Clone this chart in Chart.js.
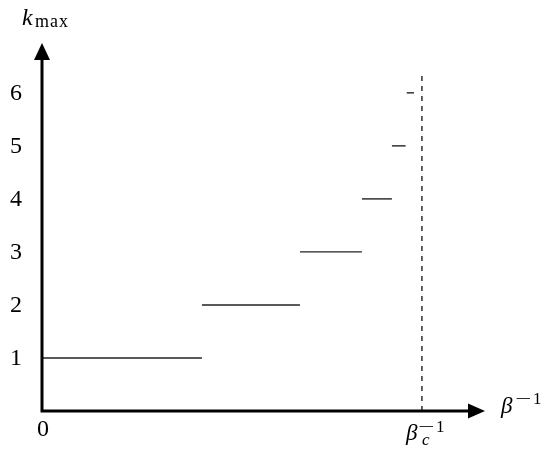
<!DOCTYPE html>
<html>
<head>
<meta charset="utf-8">
<script src="https://cdn.jsdelivr.net/npm/chart.js@4.4.1/dist/chart.umd.min.js"></script>
<style>
  body { margin: 0; background: #fff; }
  canvas { display: block; }
</style>
</head>
<body>
<canvas id="steps" width="541" height="452"></canvas>
<script>
// step levels of k_max and where each step starts / ends (in units of beta_c^-1)
const levels = [1, 2, 3, 4, 5, 6];
const segStart = [0, 0.421, 0.679, 0.842, 0.921, 0.960];
const segEnd = [0.421, 0.679, 0.842, 0.921, 0.957, 0.979];
const betaC = 1;
const dashTop = 6.36;

let ctx = document.getElementById("steps").getContext("2d");
const serif = "'Liberation Serif', 'DejaVu Serif', serif";

let datasets = [];
for (let i = 0; i < levels.length; i++) {
  datasets.push({
    data: [{ x: segStart[i], y: levels[i] }, { x: segEnd[i], y: levels[i] }],
    borderColor: "#222",
    borderWidth: 1.4,
    pointRadius: 0,
  });
}
datasets.push({
  data: [{ x: betaC, y: 0 }, { x: betaC, y: dashTop }],
  borderColor: "#222",
  borderWidth: 1.4,
  borderDash: [5, 5],
  pointRadius: 0,
});

// "−1" superscript, minus stretched a bit to look like the TeX one
function minusOne(c, x, y) {
  c.font = "17px " + serif;
  c.save();
  c.translate(x, y);
  c.scale(1.7, 1);
  c.fillText("−", 0, 0);
  c.restore();
  c.fillText("1", x + 18, y);
}

// axes with arrows and all the labels
const axesPlugin = {
  id: "axes",
  afterDraw(chart) {
    const c = chart.ctx;
    const xs = chart.scales.x, ys = chart.scales.y;
    const x0 = xs.getPixelForValue(0), y0 = ys.getPixelForValue(0);
    const xEnd = chart.chartArea.right, yEnd = chart.chartArea.top;
    c.save();
    c.strokeStyle = "#000";
    c.fillStyle = "#000";
    c.lineWidth = 3;
    c.beginPath();
    c.moveTo(x0, y0);
    c.lineTo(xEnd - 12, y0);
    c.moveTo(x0, y0 + 1.5);
    c.lineTo(x0, yEnd + 12);
    c.stroke();
    c.beginPath();
    c.moveTo(xEnd, y0);
    c.lineTo(xEnd - 17, y0 - 7.5);
    c.lineTo(xEnd - 17, y0 + 7.5);
    c.closePath();
    c.fill();
    c.beginPath();
    c.moveTo(x0, yEnd);
    c.lineTo(x0 - 8, yEnd + 17);
    c.lineTo(x0 + 8, yEnd + 17);
    c.closePath();
    c.fill();

    // y tick labels
    c.font = "24px " + serif;
    c.textAlign = "center";
    c.textBaseline = "middle";
    for (const k of levels) {
      c.fillText(String(k), 16, ys.getPixelForValue(k) + 1);
    }
    c.textBaseline = "alphabetic";
    c.fillText("0", x0 + 1, y0 + 25);

    // beta_c^-1
    const xb = xs.getPixelForValue(betaC);
    c.textAlign = "left";
    c.font = "italic 23px " + serif;
    c.fillText("β", xb - 16, y0 + 29);
    c.font = "italic 17px " + serif;
    c.fillText("c", xb + 0, y0 + 34);
    minusOne(c, xb - 4, y0 + 21);

    // beta^-1 axis title
    c.font = "italic 23px " + serif;
    c.fillText("β", xEnd + 16, y0 + 2);
    minusOne(c, xEnd + 30, y0 - 7);

    // k_max axis title
    c.font = "italic 24px " + serif;
    c.fillText("k", 22, 25);
    c.font = "18px " + serif;
    c.letterSpacing = "1px";
    c.fillText("max", 35, 27);
    c.restore();
  },
};

let chart = new Chart(ctx, {
  type: "line",
  data: { datasets: datasets },
  options: {
    responsive: false,
    animation: false,
    layout: { padding: { left: 42, top: 43, right: 56, bottom: 41 } },
    scales: {
      x: { type: "linear", min: 0, max: 1.166, display: false },
      y: { type: "linear", min: 0, max: 6.94, display: false },
    },
    plugins: { legend: { display: false }, tooltip: { enabled: false } },
  },
  plugins: [axesPlugin],
});
</script>
</body>
</html>
